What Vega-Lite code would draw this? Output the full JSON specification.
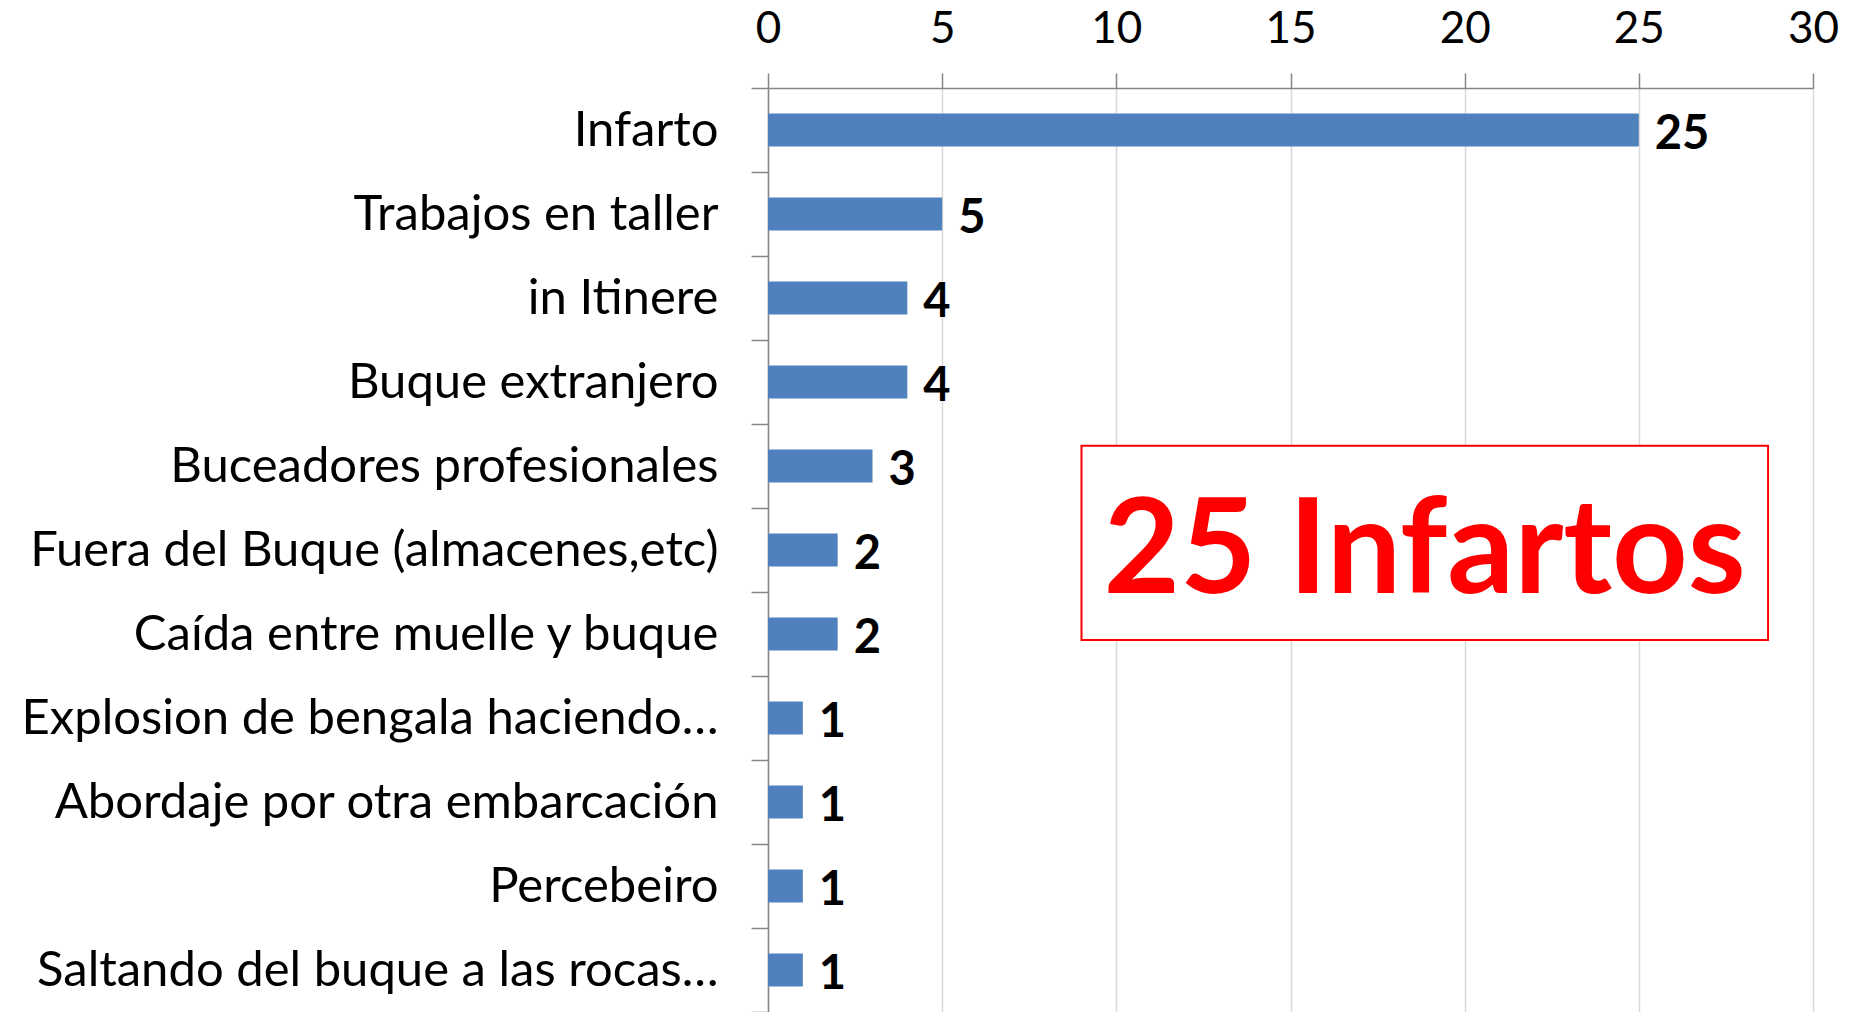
{
  "$schema": "https://vega.github.io/schema/vega-lite/v6.json",
  "width": 1045,
  "height": 924,
  "autosize": {"type": "none"},
  "padding": {"left": 768, "top": 88, "right": 38, "bottom": 0},
  "background": "white",
  "config": {"view": {"stroke": null}, "font": "Lato"},
  "layer": [
    {
      "data": {"values": [
        {"causa": "Infarto", "valor": 25},
        {"causa": "Trabajos en taller", "valor": 5},
        {"causa": "in Itinere", "valor": 4},
        {"causa": "Buque extranjero", "valor": 4},
        {"causa": "Buceadores profesionales", "valor": 3},
        {"causa": "Fuera del Buque (almacenes,etc)", "valor": 2},
        {"causa": "Caída entre muelle y buque", "valor": 2},
        {"causa": "Explosion de bengala haciendo…", "valor": 1},
        {"causa": "Abordaje por otra embarcación", "valor": 1},
        {"causa": "Percebeiro", "valor": 1},
        {"causa": "Saltando del buque a las rocas…", "valor": 1}
      ]},
      "encoding": {
        "y": {
          "field": "causa", "type": "nominal", "sort": null,
          "scale": {"paddingInner": 0, "paddingOuter": 0},
          "axis": {
            "title": null, "tickBand": "extent", "grid": false,
            "labelFont": "Lato", "labelFontSize": 49, "labelColor": "black",
            "labelPadding": 33, "tickSize": 17, "tickColor": "#868686",
            "domainColor": "#868686", "domainWidth": 1.5, "tickWidth": 1.5,
            "labelLimit": 800
          }
        },
        "x": {
          "field": "valor", "type": "quantitative",
          "scale": {"domain": [0, 30], "nice": false},
          "axis": {
            "orient": "top", "title": null, "values": [0, 5, 10, 15, 20, 25, 30],
            "labelFont": "Lato", "labelFontSize": 44, "labelColor": "black",
            "labelFlush": false, "labelOverlap": false,
            "labelPadding": 22, "tickSize": 15, "tickColor": "#868686",
            "domainColor": "#868686", "domainWidth": 1.5, "tickWidth": 1.5,
            "gridColor": "#D9D9D9", "gridWidth": 1.5
          }
        }
      },
      "layer": [
        {"mark": {"type": "bar", "color": "#4F81BD", "height": {"band": 0.39}}},
        {"mark": {"type": "text", "align": "left", "baseline": "middle", "dx": 16, "dy": 5, "font": "Lato", "fontWeight": "bold", "fontSize": 47, "color": "black"},
         "encoding": {"text": {"field": "valor", "type": "quantitative"}}}
      ]
    },
    {
      "data": {"values": [
        {"x1": 9, "x2": 28.71, "y1": 4.26, "y2": 6.57, "xc": 18.85, "yc": 5.53, "texto": "25 Infartos"}
      ]},
      "layer": [
        {"mark": {"type": "rect", "fill": "white", "stroke": "#FF0000", "strokeWidth": 2},
         "encoding": {
           "x": {"field": "x1", "type": "quantitative"},
           "x2": {"field": "x2"},
           "y": {"field": "y1", "type": "quantitative", "scale": {"domain": [0, 11], "reverse": true, "nice": false, "zero": false}, "axis": null},
           "y2": {"field": "y2"}
         }},
        {"mark": {"type": "text", "align": "center", "baseline": "middle", "font": "Lato", "fontWeight": "bold", "fontSize": 132, "color": "#FF0000"},
         "encoding": {
           "x": {"field": "xc", "type": "quantitative"},
           "y": {"field": "yc", "type": "quantitative", "scale": {"domain": [0, 11], "reverse": true, "nice": false, "zero": false}, "axis": null},
           "text": {"field": "texto", "type": "nominal"}
         }}
      ]
    }
  ],
  "resolve": {"scale": {"y": "independent"}, "axis": {"y": "independent"}}
}
